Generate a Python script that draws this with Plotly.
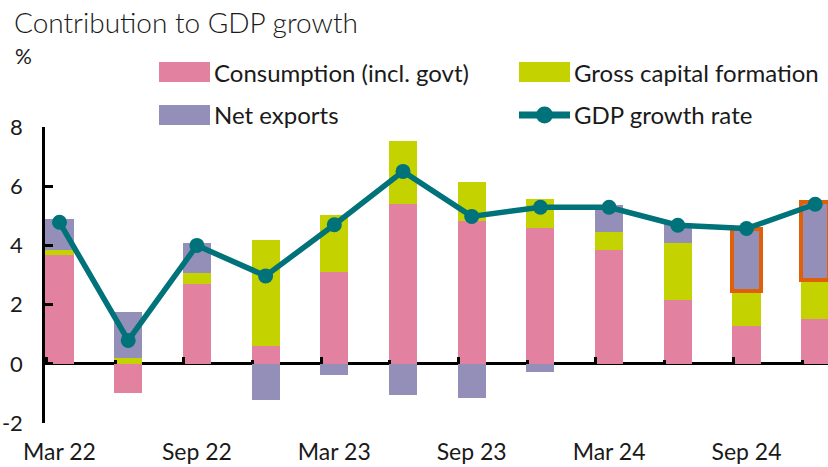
import plotly.graph_objects as go

# ---------------- data ----------------
quarters = ["Mar 22", "Jun 22", "Sep 22", "Dec 22", "Mar 23", "Jun 23",
            "Sep 23", "Dec 23", "Mar 24", "Jun 24", "Sep 24", "Dec 24"]
consumption = [3.68, -0.97, 2.69, 0.61, 3.09, 5.41, 4.84, 4.59, 3.84, 2.16, 1.27, 1.50]
capital_formation = [0.15, 0.20, 0.37, 3.58, 1.94, 2.12, 1.29, 0.97, 0.61, 1.91, 1.18, 1.32]
net_exports = [1.07, 1.56, 1.02, -1.22, -0.37, -1.07, -1.14, -0.26, 0.90, 0.69, 2.12, 2.65]
gdp_growth = [4.78, 0.79, 4.00, 2.97, 4.70, 6.50, 4.98, 5.29, 5.29, 4.68, 4.57, 5.39]
highlighted = [False] * 10 + [True, True]   # orange outline on net exports
tick_labels = ["Mar 22", "Sep 22", "Mar 23", "Sep 23", "Mar 24", "Sep 24"]
tick_positions = [0, 2, 4, 6, 8, 10]
y_tick_values = [-2, 0, 2, 4, 6, 8]
y_tick_labels = ["-2", "0", "2", "4", "6", "8"]

series_names = ["Consumption (incl. govt)", "Gross capital formation",
                "Net exports", "GDP growth rate"]

# ---------------- style ----------------
PINK = "#E381A0"
GREEN = "#C4D200"
PURPLE = "#948FB9"
TEAL = "#00727A"
ORANGE = "#E0600A"
TXT = "#1a1a1a"
FONT = "Lato"

W, H = 828, 467
ML, MR, MT, MB = 45, 0, 127, 44
PW, PH = W - ML - MR, H - MT - MB

def pxx(x):
    return (x - ML) / PW

def pxy(y):
    return (H - MB - y) / PH

xpos = list(range(len(quarters)))
BW = 0.41

fig = go.Figure()
fig.add_bar(x=xpos, y=consumption, name=series_names[0], width=BW,
            marker=dict(color=PINK, line=dict(width=0)), showlegend=False)
fig.add_bar(x=xpos, y=capital_formation, name=series_names[1], width=BW,
            marker=dict(color=GREEN, line=dict(width=0)), showlegend=False)
fig.add_bar(x=xpos, y=net_exports, name=series_names[2], width=BW,
            marker=dict(color=PURPLE,
                        line=dict(color=[ORANGE if h else PURPLE for h in highlighted],
                                  width=[4 if h else 0 for h in highlighted])),
            showlegend=False)
fig.add_scatter(x=xpos, y=gdp_growth, name=series_names[3], mode="lines+markers",
                xaxis="x2", line=dict(color=TEAL, width=5.5),
                marker=dict(color=TEAL, size=15), showlegend=False)

x_lo = (ML - 59.5) / 68.7
x_hi = (W - 59.5) / 68.7

fig.update_layout(
    width=W, height=H,
    margin=dict(l=ML, r=MR, t=MT, b=MB, autoexpand=False),
    paper_bgcolor="white", plot_bgcolor="white",
    barmode="relative", bargap=0,
    font=dict(family=FONT, color=TXT, size=22),
    xaxis=dict(range=[x_lo, x_hi], tickvals=tick_positions, ticktext=tick_labels,
               ticks="", showline=False, showgrid=False, zeroline=False,
               automargin=False,
               ticklabelstandoff=13, tickfont=dict(size=23, color=TXT)),
    xaxis2=dict(overlaying="x", matches="x", anchor="free", position=0.2,
                side="bottom", showticklabels=False, showgrid=False,
                zeroline=False, showline=False, layer="above traces",
                ticks="inside", tick0=x_lo + 0.02, dtick=2, ticklen=7,
                tickwidth=2.5, tickcolor="black",
                minor=dict(ticks="inside", tick0=x_lo + 0.02, dtick=1, ticklen=4,
                           tickwidth=2.5, tickcolor="black")),
    yaxis=dict(range=[-2, 8], tickvals=y_tick_values, ticktext=y_tick_labels,
               ticks="inside", ticklen=8,
               tickwidth=2.5, tickcolor="black", showline=True, linewidth=2.5,
               linecolor="black", showgrid=False, zeroline=True,
               zerolinecolor="black", zerolinewidth=2.5, layer="above traces",
               automargin=False,
               ticklabelstandoff=15, tickfont=dict(size=22, color=TXT)),
)

# title and unit
fig.add_annotation(text="Contribution to GDP growth", xref="paper", yref="paper",
                   x=pxx(12), y=pxy(22), xanchor="left", yanchor="middle",
                   showarrow=False, font=dict(size=28, color=TXT, weight=300))
fig.add_annotation(text="%", xref="paper", yref="paper",
                   x=pxx(13), y=pxy(55), xanchor="left", yanchor="middle",
                   showarrow=False, font=dict(size=21, color=TXT))

# legend (manual, to match large swatches)
legend_items = [
    (series_names[0], PINK, 159, 72, "bar"),
    (series_names[1], GREEN, 519, 72, "bar"),
    (series_names[2], PURPLE, 159, 115, "bar"),
    (series_names[3], TEAL, 519, 115, "line"),
]
for name, col, lx, ly, kind in legend_items:
    if kind == "bar":
        fig.add_shape(type="rect", xref="paper", yref="paper",
                      x0=pxx(lx), x1=pxx(lx + 51), y0=pxy(ly - 10), y1=pxy(ly + 10),
                      fillcolor=col, line=dict(width=0))
    else:
        fig.add_shape(type="line", xref="paper", yref="paper",
                      x0=pxx(lx), x1=pxx(lx + 51), y0=pxy(ly), y1=pxy(ly),
                      line=dict(color=col, width=7))
        fig.add_shape(type="circle", xref="paper", yref="paper",
                      x0=pxx(lx + 17), x1=pxx(lx + 34), y0=pxy(ly - 8.5), y1=pxy(ly + 8.5),
                      fillcolor=col, line=dict(width=0))
    fig.add_annotation(text=name, xref="paper", yref="paper",
                       x=pxx(lx + 53), y=pxy(ly), xanchor="left", yanchor="middle",
                       showarrow=False, font=dict(size=24, color=TXT))

fig.write_html("out.html", config={"displayModeBar": False},
               post_script="document.body.style.margin='0';document.body.style.padding='0';")
